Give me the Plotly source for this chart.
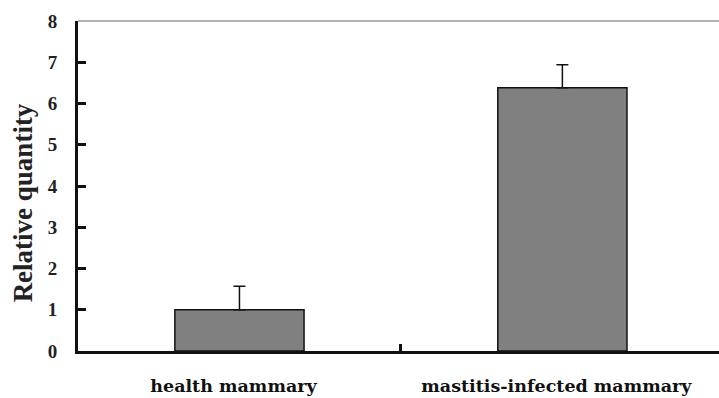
import plotly.graph_objects as go

# Expression levels (mean with upper standard deviation)
groups = ["health mammary", "mastitis-infected mammary"]
relative_quantity = [1.0, 6.38]
error_upper = [0.57, 0.56]
y_ticks = [0, 1, 2, 3, 4, 5, 6, 7, 8]

fig = go.Figure()
fig.add_trace(go.Bar(
    x=groups,
    y=relative_quantity,
    width=0.4,
    marker=dict(color="#808080", line=dict(color="#111111", width=1.5)),
    error_y=dict(type="data", symmetric=False, array=error_upper,
                 arrayminus=[0, 0], color="#111111", thickness=1.5, width=6),
))

# thin gray frame line along the top of the plotting area
fig.add_shape(type="line", xref="paper", yref="paper", x0=0, x1=1, y0=1, y1=1,
              line=dict(color="#9a9a9a", width=1.5))

fig.add_annotation(text="Relative quantity", xref="paper", yref="paper",
                   x=-0.086, y=0.45, xanchor="center", yanchor="middle",
                   textangle=-90, showarrow=False,
                   font=dict(family="Liberation Serif", size=27, color="#222222",
                             weight="bold"))

fig.update_layout(
    width=719, height=398,
    margin=dict(l=78, r=0, t=21, b=47),
    paper_bgcolor="white", plot_bgcolor="white",
    showlegend=False,
    xaxis=dict(
        type="category", range=[-0.5, 1.485],
        showline=True, linecolor="#111111", linewidth=3,
        ticks="inside", tickson="boundaries", ticklen=7, tickwidth=3,
        tickcolor="#111111",
        tickfont=dict(family="DejaVu Serif", size=17.5, color="#111111", weight="bold"),
        ticklabelstandoff=17, ticklabelshift=-6,
        showgrid=False, zeroline=False,
    ),
    yaxis=dict(
        range=[0, 8], tickvals=y_ticks,
        showline=True, linecolor="#111111", linewidth=3,
        ticks="inside", ticklen=8, tickwidth=3, tickcolor="#111111",
        tickfont=dict(family="Liberation Serif", size=19, color="#222222", weight="bold"),
        ticklabelstandoff=14,
        showgrid=False, zeroline=False,
    ),
)

fig.write_html("out.html")
